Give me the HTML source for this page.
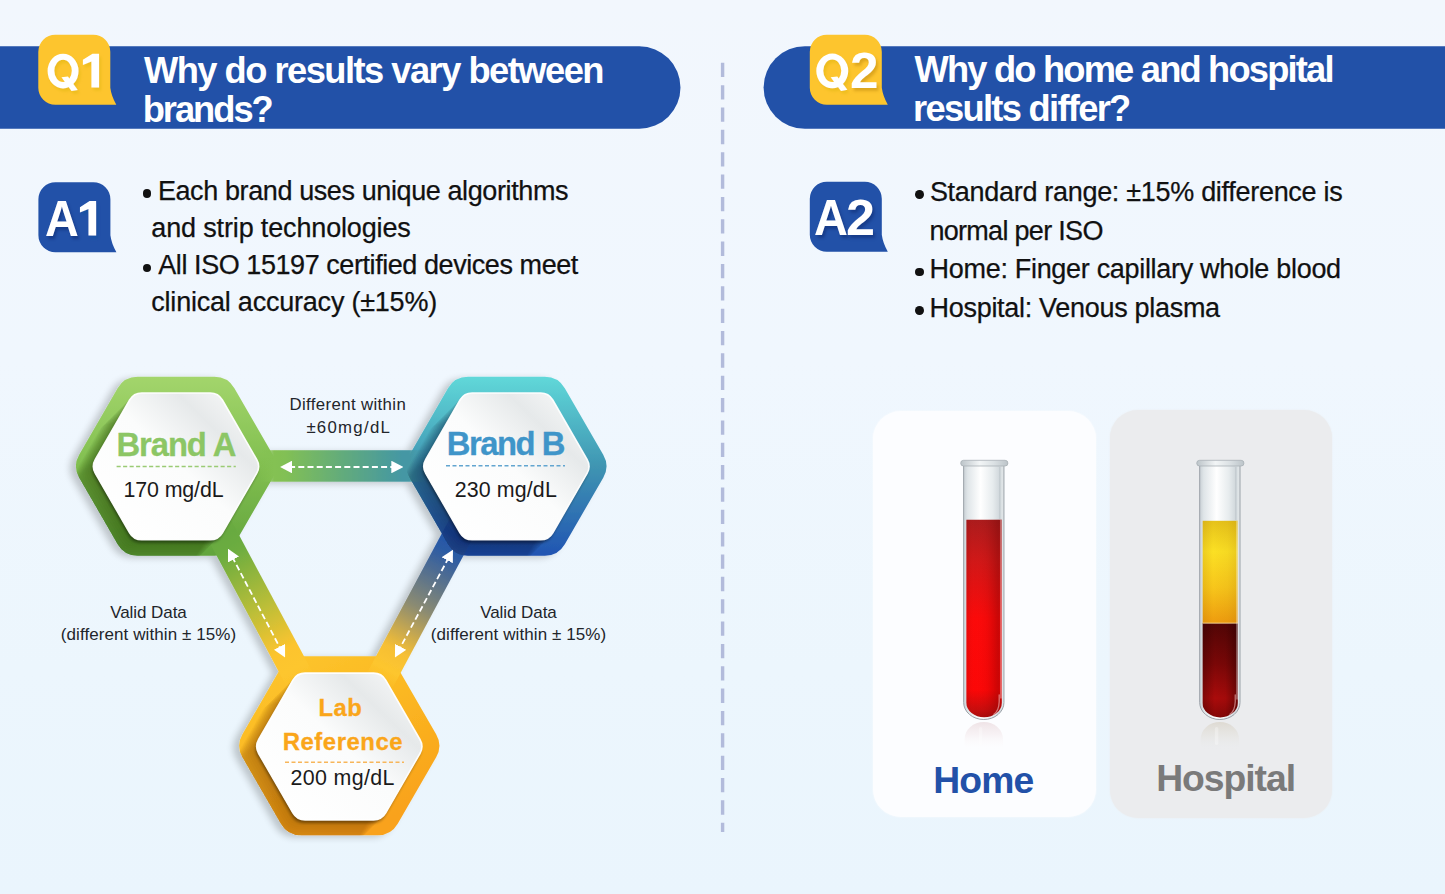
<!DOCTYPE html>
<html><head><meta charset="utf-8"><title>QA</title>
<style>
html,body{margin:0;padding:0;width:1445px;height:894px;}
body{width:1445px;height:894px;overflow:hidden;position:relative;font-family:"Liberation Sans",sans-serif;
background:linear-gradient(180deg,#f2f7fd 0%,#f0f7fe 40%,#ecf6fd 75%,#eaf5fd 100%);}
.t{position:absolute;white-space:nowrap;line-height:1.149;}
.c{text-align:center;}
.bar{position:absolute;top:46px;height:82.4px;background:#2251a8;}
svg{position:absolute;left:0;top:0;overflow:visible;}
.card{position:absolute;border-radius:28px;}
</style></head><body>
<svg width="1445" height="894" viewBox="0 0 1445 894"><path d="M0,46.3 H639.3 A41.2,41.2 0 0 1 639.3,128.7 H0 Z" fill="#2251a8"/><path d="M1445,46.2 H804.9 A41.3,41.3 0 0 0 804.9,128.8 H1445 Z" fill="#2251a8"/></svg>
<div class="card" style="left:873.2px;top:411px;width:222.6px;height:405.6px;background:#fcfdff;box-shadow:0 0 2px #fcfdff;"></div>
<div class="card" style="left:1110px;top:410.2px;width:222.4px;height:407.4px;background:#ebecee;box-shadow:0 0 2px #ebecee;"></div>

<svg width="1445" height="894" viewBox="0 0 1445 894">
<defs>
<linearGradient id="gA" x1="0" y1="0" x2="0" y2="1"><stop offset="0" stop-color="#a3d56c"/><stop offset="0.45" stop-color="#84c152"/><stop offset="1" stop-color="#62a43c"/></linearGradient>
<linearGradient id="gB" x1="0" y1="0" x2="0" y2="1"><stop offset="0" stop-color="#60d8d9"/><stop offset="0.5" stop-color="#3f95b2"/><stop offset="1" stop-color="#2154b2"/></linearGradient>
<linearGradient id="gL" x1="0" y1="0" x2="0.6" y2="1"><stop offset="0" stop-color="#fdc82f"/><stop offset="0.5" stop-color="#fbb822"/><stop offset="1" stop-color="#f9a21a"/></linearGradient>
<linearGradient id="gTop" gradientUnits="userSpaceOnUse" x1="260" y1="0" x2="426" y2="0"><stop offset="0" stop-color="#84c152" stop-opacity="0"/><stop offset="0.085" stop-color="#84c152"/><stop offset="0.15" stop-color="#82c054"/><stop offset="0.5" stop-color="#62ab7c"/><stop offset="0.86" stop-color="#4497a4"/><stop offset="0.9" stop-color="#4497a4"/><stop offset="1" stop-color="#4497a4" stop-opacity="0"/></linearGradient>
<linearGradient id="gLeft" x1="0" y1="0" x2="1" y2="0"><stop offset="0" stop-color="#68aa3f" stop-opacity="0"/><stop offset="0.098" stop-color="#68aa3f"/><stop offset="0.2" stop-color="#6dad40"/><stop offset="0.54" stop-color="#bbbe38"/><stop offset="0.8" stop-color="#fcc42e"/><stop offset="0.913" stop-color="#fdc62e"/><stop offset="1" stop-color="#fdc62e" stop-opacity="0"/></linearGradient>
<linearGradient id="gRight" x1="0" y1="0" x2="1" y2="0"><stop offset="0" stop-color="#2356aa" stop-opacity="0"/><stop offset="0.098" stop-color="#2356aa"/><stop offset="0.2" stop-color="#2c5ba4"/><stop offset="0.54" stop-color="#8b8b72"/><stop offset="0.8" stop-color="#f6bf34"/><stop offset="0.913" stop-color="#fdc62e"/><stop offset="1" stop-color="#fdc62e" stop-opacity="0"/></linearGradient>
<linearGradient id="gIn" x1="0.1" y1="0.9" x2="0.95" y2="0.1"><stop offset="0" stop-color="#ffffff"/><stop offset="0.5" stop-color="#fbfcfc"/><stop offset="0.78" stop-color="#e6e9ea"/><stop offset="1" stop-color="#f6f7f7"/></linearGradient>
<filter id="shO" x="-10%" y="-10%" width="120%" height="120%"><feGaussianBlur in="SourceAlpha" stdDeviation="3.5"/><feOffset dx="-6" dy="1.5"/><feComponentTransfer><feFuncA type="linear" slope="0.2"/></feComponentTransfer><feMerge><feMergeNode/><feMergeNode in="SourceGraphic"/></feMerge></filter>
<filter id="shI" x="-15%" y="-15%" width="130%" height="130%"><feGaussianBlur in="SourceAlpha" stdDeviation="1.8"/><feOffset dx="-1.5" dy="2.5"/><feComponentTransfer><feFuncA type="linear" slope="0.4"/></feComponentTransfer><feMerge><feMergeNode/><feMergeNode in="SourceGraphic"/></feMerge></filter>
<filter id="bsh" x="-20%" y="-20%" width="150%" height="150%"><feGaussianBlur in="SourceAlpha" stdDeviation="1.6"/><feOffset dx="3" dy="3"/><feComponentTransfer><feFuncA type="linear" slope="0.22"/></feComponentTransfer><feMerge><feMergeNode/><feMergeNode in="SourceGraphic"/></feMerge></filter>
<path id="iA" d="M129.61,400.00 A14,14 0 0 1 141.74,393.00 L210.26,393.00 A14,14 0 0 1 222.39,400.00 L256.66,459.40 A14,14 0 0 1 256.66,473.40 L222.39,532.80 A14,14 0 0 1 210.26,539.80 L141.74,539.80 A14,14 0 0 1 129.61,532.80 L95.34,473.40 A14,14 0 0 1 95.34,459.40 Z"/><path id="iB" d="M460.01,400.00 A14,14 0 0 1 472.14,393.00 L540.66,393.00 A14,14 0 0 1 552.79,400.00 L587.06,459.40 A14,14 0 0 1 587.06,473.40 L552.79,532.80 A14,14 0 0 1 540.66,539.80 L472.14,539.80 A14,14 0 0 1 460.01,532.80 L425.74,473.40 A14,14 0 0 1 425.74,459.40 Z"/><path id="iL" d="M292.91,680.10 A14,14 0 0 1 305.04,673.10 L373.56,673.10 A14,14 0 0 1 385.69,680.10 L419.96,739.50 A14,14 0 0 1 419.96,753.50 L385.69,812.90 A14,14 0 0 1 373.56,819.90 L305.04,819.90 A14,14 0 0 1 292.91,812.90 L258.64,753.50 A14,14 0 0 1 258.64,739.50 Z"/>
<filter id="gshY" x="-40%" y="-20%" width="200%" height="150%"><feGaussianBlur in="SourceAlpha" stdDeviation="1.5"/><feOffset dx="2" dy="3"/><feColorMatrix type="matrix" values="0 0 0 0 0.63  0 0 0 0 0.43  0 0 0 0 0  0 0 0 0.35 0"/><feMerge><feMergeNode/><feMergeNode in="SourceGraphic"/></feMerge></filter>
<filter id="gshB" x="-40%" y="-20%" width="200%" height="150%"><feGaussianBlur in="SourceAlpha" stdDeviation="1.5"/><feOffset dx="2" dy="3"/><feColorMatrix type="matrix" values="0 0 0 0 0  0 0 0 0 0.08  0 0 0 0 0.31  0 0 0 0.35 0"/><feMerge><feMergeNode/><feMergeNode in="SourceGraphic"/></feMerge></filter>
<clipPath id="cA"><path d="M117.61,388.19 A23,23 0 0 1 137.52,376.70 L214.48,376.70 A23,23 0 0 1 234.39,388.19 L272.84,454.69 A23,23 0 0 1 272.84,477.71 L234.39,544.21 A23,23 0 0 1 214.48,555.70 L137.52,555.70 A23,23 0 0 1 117.61,544.21 L79.16,477.71 A23,23 0 0 1 79.16,454.69 Z"/></clipPath>
<clipPath id="cB"><path d="M448.01,388.19 A23,23 0 0 1 467.92,376.70 L544.88,376.70 A23,23 0 0 1 564.79,388.19 L603.24,454.69 A23,23 0 0 1 603.24,477.71 L564.79,544.21 A23,23 0 0 1 544.88,555.70 L467.92,555.70 A23,23 0 0 1 448.01,544.21 L409.56,477.71 A23,23 0 0 1 409.56,454.69 Z"/></clipPath>
<clipPath id="cL"><path d="M280.91,667.69 A23,23 0 0 1 300.82,656.20 L377.78,656.20 A23,23 0 0 1 397.69,667.69 L436.14,734.19 A23,23 0 0 1 436.14,757.21 L397.69,823.71 A23,23 0 0 1 377.78,835.20 L300.82,835.20 A23,23 0 0 1 280.91,823.71 L242.46,757.21 A23,23 0 0 1 242.46,734.19 Z"/></clipPath>
<marker id="ah" viewBox="0 0 12 12.6" refX="3" refY="6.3" markerWidth="12" markerHeight="12.6" markerUnits="userSpaceOnUse" orient="auto-start-reverse"><path d="M0,0 L12,6.3 L0,12.6 Z" fill="#fff" stroke="none"/></marker>
</defs>
<line x1="722.6" y1="62.8" x2="722.6" y2="832" stroke="#b2bbdb" stroke-width="3.4" stroke-dasharray="14.3 8.05"/>
<g filter="url(#shO)">
<path d="M117.61,388.19 A23,23 0 0 1 137.52,376.70 L214.48,376.70 A23,23 0 0 1 234.39,388.19 L272.84,454.69 A23,23 0 0 1 272.84,477.71 L234.39,544.21 A23,23 0 0 1 214.48,555.70 L137.52,555.70 A23,23 0 0 1 117.61,544.21 L79.16,477.71 A23,23 0 0 1 79.16,454.69 Z" fill="url(#gA)"/>
<path d="M448.01,388.19 A23,23 0 0 1 467.92,376.70 L544.88,376.70 A23,23 0 0 1 564.79,388.19 L603.24,454.69 A23,23 0 0 1 603.24,477.71 L564.79,544.21 A23,23 0 0 1 544.88,555.70 L467.92,555.70 A23,23 0 0 1 448.01,544.21 L409.56,477.71 A23,23 0 0 1 409.56,454.69 Z" fill="url(#gB)"/>
<path d="M280.91,667.69 A23,23 0 0 1 300.82,656.20 L377.78,656.20 A23,23 0 0 1 397.69,667.69 L436.14,734.19 A23,23 0 0 1 436.14,757.21 L397.69,823.71 A23,23 0 0 1 377.78,835.20 L300.82,835.20 A23,23 0 0 1 280.91,823.71 L242.46,757.21 A23,23 0 0 1 242.46,734.19 Z" fill="url(#gL)"/>
<rect x="260" y="450.2" width="166" height="31.5" fill="url(#gTop)"/>
<rect x="-24" y="-14.75" width="184" height="29.5" fill="url(#gLeft)" transform="translate(225.7,541.4) rotate(61.8)"/>
<rect x="-24" y="-14.75" width="184" height="29.5" fill="url(#gRight)" transform="translate(454.3,541.4) rotate(118.2)"/>
</g>
<g clip-path="url(#cA)">
<use href="#iA" x="-30.6" y="30.6" fill="#1c3a08" opacity="0.03"/>
<use href="#iA" x="-28.9" y="28.9" fill="#1c3a08" opacity="0.03"/>
<use href="#iA" x="-27.2" y="27.2" fill="#1c3a08" opacity="0.03"/>
<use href="#iA" x="-25.5" y="25.5" fill="#1c3a08" opacity="0.03"/>
<use href="#iA" x="-23.8" y="23.8" fill="#1c3a08" opacity="0.03"/>
<use href="#iA" x="-22.1" y="22.1" fill="#1c3a08" opacity="0.03"/>
<use href="#iA" x="-20.4" y="20.4" fill="#1c3a08" opacity="0.03"/>
<use href="#iA" x="-18.7" y="18.7" fill="#1c3a08" opacity="0.03"/>
<use href="#iA" x="-17.0" y="17.0" fill="#1c3a08" opacity="0.03"/>
<use href="#iA" x="-15.3" y="15.3" fill="#1c3a08" opacity="0.03"/>
<use href="#iA" x="-13.6" y="13.6" fill="#1c3a08" opacity="0.03"/>
<use href="#iA" x="-11.9" y="11.9" fill="#1c3a08" opacity="0.03"/>
<use href="#iA" x="-10.2" y="10.2" fill="#1c3a08" opacity="0.03"/>
<use href="#iA" x="-8.5" y="8.5" fill="#1c3a08" opacity="0.03"/>
<use href="#iA" x="-6.8" y="6.8" fill="#1c3a08" opacity="0.03"/>
<use href="#iA" x="-5.1" y="5.1" fill="#1c3a08" opacity="0.03"/>
<use href="#iA" x="-3.4" y="3.4" fill="#1c3a08" opacity="0.03"/>
<use href="#iA" x="-1.7" y="1.7" fill="#1c3a08" opacity="0.03"/>
</g>
<use href="#iA" fill="url(#gIn)" filter="url(#shI)"/>
<use href="#iA" fill="none" stroke="#ffffff" stroke-opacity="0.95" stroke-width="1.6"/>
<g clip-path="url(#cB)">
<use href="#iB" x="-30.6" y="30.6" fill="#061028" opacity="0.024"/>
<use href="#iB" x="-28.9" y="28.9" fill="#061028" opacity="0.024"/>
<use href="#iB" x="-27.2" y="27.2" fill="#061028" opacity="0.024"/>
<use href="#iB" x="-25.5" y="25.5" fill="#061028" opacity="0.024"/>
<use href="#iB" x="-23.8" y="23.8" fill="#061028" opacity="0.024"/>
<use href="#iB" x="-22.1" y="22.1" fill="#061028" opacity="0.024"/>
<use href="#iB" x="-20.4" y="20.4" fill="#061028" opacity="0.024"/>
<use href="#iB" x="-18.7" y="18.7" fill="#061028" opacity="0.024"/>
<use href="#iB" x="-17.0" y="17.0" fill="#061028" opacity="0.024"/>
<use href="#iB" x="-15.3" y="15.3" fill="#061028" opacity="0.024"/>
<use href="#iB" x="-13.6" y="13.6" fill="#061028" opacity="0.024"/>
<use href="#iB" x="-11.9" y="11.9" fill="#061028" opacity="0.024"/>
<use href="#iB" x="-10.2" y="10.2" fill="#061028" opacity="0.024"/>
<use href="#iB" x="-8.5" y="8.5" fill="#061028" opacity="0.024"/>
<use href="#iB" x="-6.8" y="6.8" fill="#061028" opacity="0.024"/>
<use href="#iB" x="-5.1" y="5.1" fill="#061028" opacity="0.024"/>
<use href="#iB" x="-3.4" y="3.4" fill="#061028" opacity="0.024"/>
<use href="#iB" x="-1.7" y="1.7" fill="#061028" opacity="0.024"/>
</g>
<use href="#iB" fill="url(#gIn)" filter="url(#shI)"/>
<use href="#iB" fill="none" stroke="#ffffff" stroke-opacity="0.95" stroke-width="1.6"/>
<g clip-path="url(#cL)">
<use href="#iL" x="-30.6" y="30.6" fill="#8a4200" opacity="0.032"/>
<use href="#iL" x="-28.9" y="28.9" fill="#8a4200" opacity="0.032"/>
<use href="#iL" x="-27.2" y="27.2" fill="#8a4200" opacity="0.032"/>
<use href="#iL" x="-25.5" y="25.5" fill="#8a4200" opacity="0.032"/>
<use href="#iL" x="-23.8" y="23.8" fill="#8a4200" opacity="0.032"/>
<use href="#iL" x="-22.1" y="22.1" fill="#8a4200" opacity="0.032"/>
<use href="#iL" x="-20.4" y="20.4" fill="#8a4200" opacity="0.032"/>
<use href="#iL" x="-18.7" y="18.7" fill="#8a4200" opacity="0.032"/>
<use href="#iL" x="-17.0" y="17.0" fill="#8a4200" opacity="0.032"/>
<use href="#iL" x="-15.3" y="15.3" fill="#8a4200" opacity="0.032"/>
<use href="#iL" x="-13.6" y="13.6" fill="#8a4200" opacity="0.032"/>
<use href="#iL" x="-11.9" y="11.9" fill="#8a4200" opacity="0.032"/>
<use href="#iL" x="-10.2" y="10.2" fill="#8a4200" opacity="0.032"/>
<use href="#iL" x="-8.5" y="8.5" fill="#8a4200" opacity="0.032"/>
<use href="#iL" x="-6.8" y="6.8" fill="#8a4200" opacity="0.032"/>
<use href="#iL" x="-5.1" y="5.1" fill="#8a4200" opacity="0.032"/>
<use href="#iL" x="-3.4" y="3.4" fill="#8a4200" opacity="0.032"/>
<use href="#iL" x="-1.7" y="1.7" fill="#8a4200" opacity="0.032"/>
</g>
<use href="#iL" fill="url(#gIn)" filter="url(#shI)"/>
<use href="#iL" fill="none" stroke="#ffffff" stroke-opacity="0.95" stroke-width="1.6"/>
<g stroke="#fff" stroke-width="1.8" stroke-dasharray="6 3.2" fill="none">
<line x1="289.1" y1="467" x2="394.3" y2="467" marker-start="url(#ah)" marker-end="url(#ah)"/>
<line x1="232.2" y1="556.8" x2="280.9" y2="649.5" marker-start="url(#ah)" marker-end="url(#ah)"/>
<line x1="448.7" y1="557.6" x2="399.2" y2="649.5" marker-start="url(#ah)" marker-end="url(#ah)"/>
</g>
<line x1="116.6" y1="466.5" x2="235.8" y2="466.5" stroke="#9acb74" stroke-width="1.4" stroke-dasharray="4.1 2.4"/>
<line x1="446" y1="465.8" x2="565" y2="465.8" stroke="#62a5d0" stroke-width="1.4" stroke-dasharray="4 2.5"/>
<line x1="285" y1="762.2" x2="404" y2="762.2" stroke="#f7b65a" stroke-width="1.4" stroke-dasharray="4 2.5"/>
<path transform="translate(38.3,34.7)" d="M17,0 H55 A17,17 0 0 1 72,17 V53 Q73,61 78,70 H17 A17,17 0 0 1 0,53 V17 A17,17 0 0 1 17,0 Z" fill="#fdc52e"/>
<path transform="translate(809.8,34.7)" d="M17,0 H55 A17,17 0 0 1 72,17 V53 Q73,61 78,70 H17 A17,17 0 0 1 0,53 V17 A17,17 0 0 1 17,0 Z" fill="#fdc52e"/>
<path transform="translate(38.4,182.2)" d="M17,0 H55 A17,17 0 0 1 72,17 V53 Q73,61 78,70 H17 A17,17 0 0 1 0,53 V17 A17,17 0 0 1 17,0 Z" fill="#2251a8"/>
<path transform="translate(809.8,181.8)" d="M17,0 H55 A17,17 0 0 1 72,17 V53 Q73,61 78,70 H17 A17,17 0 0 1 0,53 V17 A17,17 0 0 1 17,0 Z" fill="#2251a8"/>
<g fill="#fff" filter="url(#gshY)"><path fill-rule="evenodd" d="M816.3,70.95 a15.95,17.35 0 1 0 31.9,0 a15.95,17.35 0 1 0 -31.9,0 Z M823.25,70.75 a9.0,11.2 0 1 1 18.0,0 a9.0,11.2 0 1 1 -18.0,0 Z"/><polygon points="830.6,77.2 837.3,76.4 847.4,89.8 841.0,91.0"/></g>
<g fill="#fff" filter="url(#gshY)" transform="translate(-769.2,0.1) translate(832.25,0) scale(0.97,1) translate(-832.25,0)"><path fill-rule="evenodd" d="M816.3,70.95 a15.95,17.35 0 1 0 31.9,0 a15.95,17.35 0 1 0 -31.9,0 Z M823.25,70.75 a9.0,11.2 0 1 1 18.0,0 a9.0,11.2 0 1 1 -18.0,0 Z"/><polygon points="830.6,77.2 837.3,76.4 847.4,89.8 841.0,91.0"/></g>
<polygon points="99.06,53.76 99.06,87.6 91.4,87.6 91.4,61.6 82.9,65.0 82.9,59.8 92.5,53.76" fill="#fff" filter="url(#gshY)"/>
<polygon points="99.06,53.76 99.06,87.6 91.4,87.6 91.4,61.6 82.9,65.0 82.9,59.8 92.5,53.76" fill="#fff" filter="url(#gshB)" transform="translate(-2.95,147.3) translate(82.9,53.76) scale(1,1.015) translate(-82.9,-53.76)"/>
</svg>
<svg width="1445" height="894" viewBox="0 0 1445 894"><defs>
<linearGradient id="glass" x1="0" y1="0" x2="1" y2="0"><stop offset="0" stop-color="#c9d0d5"/><stop offset="0.1" stop-color="#dfe5e8"/><stop offset="0.42" stop-color="#ffffff"/><stop offset="0.72" stop-color="#e7ecee"/><stop offset="0.88" stop-color="#d2d9dd"/><stop offset="1" stop-color="#e4e9eb"/></linearGradient>
<linearGradient id="rim" x1="0" y1="0" x2="1" y2="0"><stop offset="0" stop-color="#bcc4c9"/><stop offset="0.4" stop-color="#f2f5f6"/><stop offset="0.7" stop-color="#dbe1e4"/><stop offset="1" stop-color="#bcc4c9"/></linearGradient>
<linearGradient id="redV" x1="0" y1="0" x2="0" y2="1"><stop offset="0" stop-color="#aa1c1d"/><stop offset="0.2" stop-color="#cf1818"/><stop offset="0.5" stop-color="#fb0a0a"/><stop offset="0.86" stop-color="#fc0707"/><stop offset="0.96" stop-color="#c80d0d"/><stop offset="1" stop-color="#a80c0c"/></linearGradient>
<linearGradient id="redH" x1="0" y1="0" x2="1" y2="0"><stop offset="0" stop-color="#6a0000" stop-opacity="0.14"/><stop offset="0.25" stop-color="#ff2020" stop-opacity="0.0"/><stop offset="0.6" stop-color="#700000" stop-opacity="0.08"/><stop offset="0.9" stop-color="#600000" stop-opacity="0.32"/><stop offset="1" stop-color="#600000" stop-opacity="0.2"/></linearGradient>
<linearGradient id="yelV" x1="0" y1="0" x2="0" y2="1"><stop offset="0" stop-color="#e6c21a"/><stop offset="0.3" stop-color="#fbe024"/><stop offset="0.65" stop-color="#f7c61b"/><stop offset="1" stop-color="#ee9b0e"/></linearGradient>
<linearGradient id="yelH" x1="0" y1="0" x2="1" y2="0"><stop offset="0" stop-color="#8a5200" stop-opacity="0.14"/><stop offset="0.3" stop-color="#8a5200" stop-opacity="0"/><stop offset="0.7" stop-color="#8a5200" stop-opacity="0.05"/><stop offset="1" stop-color="#8a5200" stop-opacity="0.16"/></linearGradient>
<linearGradient id="drkV" x1="0" y1="0" x2="0" y2="1"><stop offset="0" stop-color="#520505"/><stop offset="0.4" stop-color="#7a0707"/><stop offset="0.75" stop-color="#aa0b0b"/><stop offset="0.92" stop-color="#8a0808"/><stop offset="1" stop-color="#6a0505"/></linearGradient>
<linearGradient id="drkH" x1="0" y1="0" x2="1" y2="0"><stop offset="0" stop-color="#200000" stop-opacity="0.3"/><stop offset="0.35" stop-color="#200000" stop-opacity="0"/><stop offset="0.65" stop-color="#200000" stop-opacity="0.05"/><stop offset="1" stop-color="#200000" stop-opacity="0.45"/></linearGradient>
<linearGradient id="reflH" x1="0" y1="0" x2="0" y2="1"><stop offset="0" stop-color="#e6d2d6" stop-opacity="0.6"/><stop offset="0.45" stop-color="#f0e2e5" stop-opacity="0.4"/><stop offset="1" stop-color="#ffffff" stop-opacity="0"/></linearGradient>
<linearGradient id="reflP" x1="0" y1="0" x2="0" y2="1"><stop offset="0" stop-color="#d8d2c6" stop-opacity="0.7"/><stop offset="0.5" stop-color="#e0ddd4" stop-opacity="0.35"/><stop offset="1" stop-color="#e9ebee" stop-opacity="0"/></linearGradient>
</defs>
<g>
<path d="M964.65,750 V739.0 A19.15,17.0 0 0 1 1002.9499999999999,739.0 V750 Z" fill="url(#reflH)"/>
<rect x="978.8" y="727" width="3.5" height="18" rx="1.7" fill="#fff" opacity="0.3"/>
<path d="M963.65,464 V702.5 A20.15,17.0 0 0 0 1003.9499999999999,702.5 V464 Z" fill="url(#glass)" stroke="#9aa1a8" stroke-width="1"/>
<path d="M966.3999999999999,519.7 V702.8 A17.7,14.6 0 0 0 1001.7999999999998,702.8 V519.7 Z" fill="url(#redV)"/>
<path d="M966.3999999999999,519.7 V702.8 A17.7,14.6 0 0 0 1001.7999999999998,702.8 V519.7 Z" fill="url(#redH)"/>
<rect x="999.3499999999999" y="467" width="1" height="52" fill="#aeb5ba" opacity="0.6"/>
<rect x="1000.1999999999998" y="520" width="1.5" height="178.5" fill="#ffffff" opacity="0.42"/>
<path d="M999.1999999999998,694.8 V701.8 Q998.7999999999998,711.4 993.7999999999998,714.1999999999999" fill="none" stroke="#ffd0d0" stroke-opacity="0.55" stroke-width="1.3" stroke-linecap="round"/>
<rect x="960.6999999999999" y="460.3" width="47.2" height="5.7" rx="2.85" fill="url(#rim)" stroke="#a9b1b6" stroke-width="0.8"/>
</g>
<g>
<path d="M1200.6999999999998,750 V739.0 A19.15,17.0 0 0 1 1238.9999999999998,739.0 V750 Z" fill="url(#reflP)"/>
<rect x="1214.85" y="727" width="3.5" height="18" rx="1.7" fill="#fff" opacity="0.3"/>
<path d="M1199.6999999999998,464 V702.5 A20.15,17.0 0 0 0 1239.9999999999998,702.5 V464 Z" fill="url(#glass)" stroke="#9aa1a8" stroke-width="1"/>
<clipPath id="lqP"><path d="M1202.4499999999998,520.6 V702.8 A17.7,14.6 0 0 0 1237.85,702.8 V520.6 Z"/></clipPath>
<g clip-path="url(#lqP)"><rect x="1202.4499999999998" y="520.6" width="35.4" height="103" fill="url(#yelV)"/><rect x="1202.4499999999998" y="520.6" width="35.4" height="103" fill="url(#yelH)"/>
<rect x="1202.4499999999998" y="623.3" width="35.4" height="100" fill="url(#drkV)"/><rect x="1202.4499999999998" y="623.3" width="35.4" height="100" fill="url(#drkH)"/>
<rect x="1202.4499999999998" y="622.6" width="35.4" height="1" fill="#f6d9a0" opacity="0.8"/></g>
<rect x="1235.3999999999999" y="467" width="1" height="53" fill="#aeb5ba" opacity="0.6"/>
<rect x="1236.25" y="521" width="1.5" height="178.5" fill="#ffffff" opacity="0.42"/>
<path d="M1235.25,694.8 V701.8 Q1234.85,711.4 1229.85,714.1999999999999" fill="none" stroke="#ffd0d0" stroke-opacity="0.55" stroke-width="1.3" stroke-linecap="round"/>
<rect x="1196.75" y="460.3" width="47.2" height="5.7" rx="2.85" fill="url(#rim)" stroke="#a9b1b6" stroke-width="0.8"/>
</g>
</svg>
<div class="t" style="left:144.00px;top:49.65px;font-size:36.3px;font-weight:bold;color:#fff;letter-spacing:-1.529px;">Why do results vary between</div>
<div class="t" style="left:142.70px;top:88.65px;font-size:36.3px;font-weight:bold;color:#fff;letter-spacing:-2.019px;">brands?</div>
<div class="t" style="left:914.50px;top:48.65px;font-size:36.3px;font-weight:bold;color:#fff;letter-spacing:-1.813px;">Why do home and hospital</div>
<div class="t" style="left:913.00px;top:87.65px;font-size:36.3px;font-weight:bold;color:#fff;letter-spacing:-1.697px;">results differ?</div>
<div class="t" style="left:849.6px;top:43.18px;font-size:49.3px;font-weight:bold;color:#fff;transform:scaleX(1.04);transform-origin:0 0;text-shadow:2px 3px 3px rgba(160,110,0,0.35);">2</div>
<div class="t" style="left:45.2px;top:191.28px;font-size:50px;font-weight:bold;color:#fff;transform:scaleX(0.936);transform-origin:0 0;text-shadow:2px 3px 3px rgba(0,20,80,0.35);">A</div>
<div class="t" style="left:813.8px;top:190.45px;font-size:49.7px;font-weight:bold;color:#fff;transform:scaleX(0.945);transform-origin:0 0;text-shadow:2px 3px 3px rgba(0,20,80,0.35);">A</div>
<div class="t" style="left:846.0px;top:190.45px;font-size:49.7px;font-weight:bold;color:#fff;transform:scaleX(1.05);transform-origin:0 0;text-shadow:2px 3px 3px rgba(0,20,80,0.35);">2</div>
<div style="position:absolute;left:142.5px;top:189.3px;width:8.8px;height:8.8px;border-radius:50%;background:#111;"></div>
<div class="t" style="left:157.90px;top:176.49px;font-size:27px;font-weight:normal;color:#111;letter-spacing:-0.396px;-webkit-text-stroke:0.25px #111;">Each brand uses unique algorithms</div>
<div class="t" style="left:151.30px;top:213.49px;font-size:27px;font-weight:normal;color:#111;letter-spacing:-0.151px;-webkit-text-stroke:0.25px #111;">and strip technologies</div>
<div style="position:absolute;left:142.5px;top:263.5px;width:8.8px;height:8.8px;border-radius:50%;background:#111;"></div>
<div class="t" style="left:158.30px;top:250.49px;font-size:27px;font-weight:normal;color:#111;letter-spacing:-0.435px;-webkit-text-stroke:0.25px #111;">All ISO 15197 certified devices meet</div>
<div class="t" style="left:151.30px;top:287.49px;font-size:27px;font-weight:normal;color:#111;letter-spacing:-0.218px;-webkit-text-stroke:0.25px #111;">clinical accuracy (±15%)</div>
<div style="position:absolute;left:914.9px;top:190.1px;width:8.8px;height:8.8px;border-radius:50%;background:#111;"></div>
<div class="t" style="left:929.90px;top:177.49px;font-size:27px;font-weight:normal;color:#111;letter-spacing:-0.297px;-webkit-text-stroke:0.25px #111;">Standard range: ±15% difference is</div>
<div class="t" style="left:929.40px;top:216.49px;font-size:27px;font-weight:normal;color:#111;letter-spacing:-0.697px;-webkit-text-stroke:0.25px #111;">normal per ISO</div>
<div style="position:absolute;left:914.9px;top:267.6px;width:8.8px;height:8.8px;border-radius:50%;background:#111;"></div>
<div class="t" style="left:929.60px;top:254.49px;font-size:27px;font-weight:normal;color:#111;letter-spacing:-0.309px;-webkit-text-stroke:0.25px #111;">Home: Finger capillary whole blood</div>
<div style="position:absolute;left:914.9px;top:306.4px;width:8.8px;height:8.8px;border-radius:50%;background:#111;"></div>
<div class="t" style="left:929.60px;top:293.49px;font-size:27px;font-weight:normal;color:#111;letter-spacing:-0.303px;-webkit-text-stroke:0.25px #111;">Hospital: Venous plasma</div>
<div class="t" style="left:289.50px;top:394.85px;font-size:16.8px;font-weight:normal;color:#22252a;letter-spacing:0.370px;">Different within</div>
<div class="t" style="left:306.40px;top:417.85px;font-size:16.8px;font-weight:normal;color:#22252a;letter-spacing:1.274px;">±60mg/dL</div>
<div class="t" style="left:110.20px;top:602.73px;font-size:17.0px;font-weight:normal;color:#22252a;letter-spacing:-0.069px;">Valid Data</div>
<div class="t" style="left:60.80px;top:624.73px;font-size:17.0px;font-weight:normal;color:#22252a;letter-spacing:0.084px;">(different within ± 15%)</div>
<div class="t" style="left:480.20px;top:602.73px;font-size:17.0px;font-weight:normal;color:#22252a;letter-spacing:-0.069px;">Valid Data</div>
<div class="t" style="left:430.80px;top:624.73px;font-size:17.0px;font-weight:normal;color:#22252a;letter-spacing:0.084px;">(different within ± 15%)</div>
<div class="t" style="left:116.40px;top:425.66px;font-size:32.8px;font-weight:bold;color:#8cc665;letter-spacing:-1.061px;-webkit-text-stroke:0.3px #8cc665;">Brand A</div>
<div class="t" style="left:123.50px;top:477.71px;font-size:21.4px;font-weight:normal;color:#1a1a1a;letter-spacing:-0.123px;">170 mg/dL</div>
<div class="t" style="left:446.80px;top:424.66px;font-size:32.8px;font-weight:bold;color:#3f95c9;letter-spacing:-1.478px;-webkit-text-stroke:0.3px #3f95c9;">Brand B</div>
<div class="t" style="left:454.70px;top:477.71px;font-size:21.4px;font-weight:normal;color:#1a1a1a;letter-spacing:0.127px;">230 mg/dL</div>
<div class="t" style="left:318.40px;top:693.77px;font-size:23.9px;font-weight:bold;color:#faa61a;letter-spacing:0.460px;-webkit-text-stroke:0.3px #faa61a;">Lab</div>
<div class="t" style="left:282.70px;top:727.77px;font-size:23.9px;font-weight:bold;color:#faa61a;letter-spacing:0.544px;-webkit-text-stroke:0.3px #faa61a;">Reference</div>
<div class="t" style="left:290.60px;top:765.71px;font-size:21.4px;font-weight:normal;color:#1a1a1a;letter-spacing:0.327px;">200 mg/dL</div>
<div class="t" style="left:933.20px;top:758.57px;font-size:37.3px;font-weight:bold;color:#2251a8;letter-spacing:-0.860px;">Home</div>
<div class="t" style="left:1156.20px;top:756.57px;font-size:37.3px;font-weight:bold;color:#7a7a7a;letter-spacing:-1.038px;">Hospital</div>
</body></html>
